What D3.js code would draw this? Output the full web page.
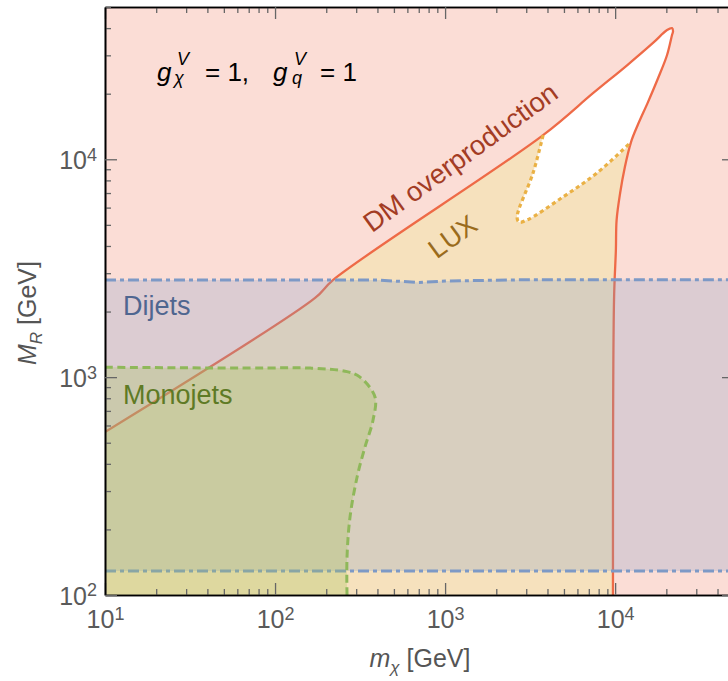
<!DOCTYPE html>
<html><head><meta charset="utf-8">
<script src="https://cdn.jsdelivr.net/npm/d3@7"></script>
<style>
body{margin:0;background:#fff;}
text{font-family:"Liberation Sans",Arial,Helvetica,sans-serif;}
</style></head>
<body>
<svg id="chart" width="728" height="681"></svg>
<script>
// ---- data (m_chi [GeV], M_R [GeV]) ----
const xMajorTicks = [10, 100, 1000, 10000];
const yMajorTicks = [100, 1000, 10000];

// DM overproduction boundary (red solid), split at the LUX junctions
const overprodLower = [[10,560],[172,2310],[219,2790],[3770,12900]];
const overprodTip = [[3770,12900],[7410,20100],[11750,27000],[16700,34200],[20200,39200],[21600,40000],[21900,38700],[21600,37200],[20200,30100],[17900,23600],[15600,18300],[13600,14400],[12400,12000]];
const overprodRight = [[12400,12000],[11400,9200],[10700,7000],[10200,5260],[10100,3830],[9850,2260],[9710,100]];

// LUX exclusion boundary (orange dotted)
const luxBoundary = [[3770,12900],[3290,8650],[2650,5430],[2720,5150],[3030,5260],[4930,6710],[7820,8650],[12400,12000]];

// Dijets excluded band (blue dash-dot)
const dijetsUpper = [[10,2790],[400,2790],[700,2720],[1000,2760],[3000,2800],[50000,2800]];
const dijetsLower = 129;

// Monojets exclusion (green dashed)
const monojetsBoundary = [[10,1110],[71,1100],[161,1100],[265,1060],[316,1000],[387,811],[377,636],[338,478],[304,349],[276,228],[265,149],[265,100]];

// ---- layout ----
const svg = d3.select("#chart");
const L = 105, R = 734, T = 7, B = 595;
const x = d3.scaleLog().domain([10, 50000]).range([L, R]);
const y = d3.scaleLog().domain([100, 50000]).range([B, T]);

svg.append("defs").append("clipPath").attr("id","clip")
  .append("rect").attr("x",L).attr("y",T).attr("width",R-L).attr("height",B-T);
const plot = svg.append("g").attr("clip-path","url(#clip)");

const line = d3.line().x(d=>x(d[0])).y(d=>y(d[1])).curve(d3.curveCatmullRom.alpha(0.5));
const lineLin = d3.line().x(d=>x(d[0])).y(d=>y(d[1]));

const overprodFull = overprodLower.concat(overprodTip.slice(1), overprodRight.slice(1));

// background (overproduction region)
plot.append("rect").attr("x",L).attr("y",T).attr("width",R-L).attr("height",B-T).attr("fill","#fbddd6");

// allowed region -> LUX-excluded colour
plot.append("path")
  .attr("d", line(overprodFull) + "L" + x(9710) + "," + (B+20) + "L" + (L-20) + "," + (B+20) + "L" + (L-20) + "," + y(560) + "Z")
  .attr("fill","#f6e1bd");

// white allowed region
plot.append("path")
  .attr("d", line(overprodTip.concat(luxBoundary.slice().reverse().slice(1))) + "Z")
  .attr("fill","#ffffff");

// red overproduction line
plot.append("path").attr("d", line(overprodFull))
  .attr("fill","none").attr("stroke","#ee6a47").attr("stroke-width",2.3).attr("stroke-linejoin","round");

// LUX dotted line
plot.append("path").attr("d", line(luxBoundary))
  .attr("fill","none").attr("stroke","#eab145").attr("stroke-width",3.2)
  .attr("stroke-dasharray","4,3.2");

// Dijets band
const dijArea = d3.area().x(d=>x(d[0])).y0(y(dijetsLower)).y1(d=>y(d[1]));
plot.append("path").attr("d", dijArea(dijetsUpper)).attr("fill","#7f9bc8").attr("fill-opacity",0.25);
plot.append("path").attr("d", lineLin(dijetsUpper)).attr("fill","none")
  .attr("stroke","#7d99c6").attr("stroke-width",3).attr("stroke-dasharray","11,4,4,4");
plot.append("path").attr("d", lineLin([[10,dijetsLower],[50000,dijetsLower]])).attr("fill","none")
  .attr("stroke","#7d99c6").attr("stroke-width",3).attr("stroke-dasharray","11,4,4,4");

// Monojets region
plot.append("path")
  .attr("d", line(monojetsBoundary) + "L" + x(265) + "," + (B+20) + "L" + (L-20) + "," + (B+20) + "L" + (L-20) + "," + y(1110) + "Z")
  .attr("fill","#a6c25a").attr("fill-opacity",0.3);
plot.append("path").attr("d", line(monojetsBoundary)).attr("fill","none")
  .attr("stroke","#8fb85a").attr("stroke-width",3).attr("stroke-dasharray","8,4.5");

// ---- axes ----
const minorX = [], minorY = [];
for (let e = 1; e <= 4; e++) for (let k = 2; k <= 9; k++) { const v = k*Math.pow(10,e); if (v <= 50000) minorX.push(v); }
for (let e = 2; e <= 4; e++) for (let k = 2; k <= 9; k++) { const v = k*Math.pow(10,e); if (v <= 50000) minorY.push(v); }

function styleAxis(g){
  g.selectAll(".tick line").attr("stroke","#666").attr("stroke-width",1.3);
  g.select(".domain").attr("stroke","#000").attr("stroke-width",1.6);
}
function supLabels(g){
  g.selectAll(".tick text").each(function(d){
    const t = d3.select(this); t.text(null);
    t.append("tspan").text("10");
    t.append("tspan").attr("dy","-0.45em").attr("font-size","0.72em").text(Math.round(Math.log10(d)));
  });
}

// bottom
const gB = svg.append("g").attr("transform",`translate(0,${B})`);
gB.append("g").call(d3.axisBottom(x).tickValues(minorX).tickSize(-6).tickSizeOuter(0).tickFormat(()=>"")).call(styleAxis);
const gBM = gB.append("g").call(d3.axisBottom(x).tickValues(xMajorTicks).tickSize(-12).tickSizeOuter(0).tickFormat(()=>"")).call(styleAxis);
gBM.selectAll(".tick text").attr("y",33).attr("dy",null).attr("fill","#5a5a5a").attr("font-size",25).attr("font-family","Liberation Sans, Arial, sans-serif");
supLabels(gBM);
// top
const gT = svg.append("g").attr("transform",`translate(0,${T})`);
gT.append("g").call(d3.axisTop(x).tickValues(minorX).tickSize(-6).tickSizeOuter(0).tickFormat(()=>"")).call(styleAxis);
gT.append("g").call(d3.axisTop(x).tickValues(xMajorTicks).tickSize(-12).tickSizeOuter(0).tickFormat(()=>"")).call(styleAxis);
// left
const gL = svg.append("g").attr("transform",`translate(${L},0)`);
gL.append("g").call(d3.axisLeft(y).tickValues(minorY).tickSize(-6).tickSizeOuter(0).tickFormat(()=>"")).call(styleAxis);
const gLM = gL.append("g").call(d3.axisLeft(y).tickValues(yMajorTicks).tickSize(-12).tickSizeOuter(0).tickFormat(()=>"")).call(styleAxis);
gLM.selectAll(".tick text").attr("x",-8).attr("dy","0.36em").attr("fill","#5a5a5a").attr("font-size",25).attr("font-family","Liberation Sans, Arial, sans-serif");
supLabels(gLM);
// right
const gR = svg.append("g").attr("transform",`translate(${R},0)`);
gR.append("g").call(d3.axisRight(y).tickValues(minorY).tickSize(-6).tickSizeOuter(0).tickFormat(()=>"")).call(styleAxis);
gR.append("g").call(d3.axisRight(y).tickValues(yMajorTicks).tickSize(-12).tickSizeOuter(0).tickFormat(()=>"")).call(styleAxis);

// axis titles
const xt = svg.append("text").attr("x",420).attr("y",667).attr("text-anchor","middle").attr("fill","#555").attr("font-size",25);
xt.append("tspan").attr("font-style","italic").text("m");
xt.append("tspan").attr("font-style","italic").attr("font-size",17).attr("dy",6).text("χ");
xt.append("tspan").attr("dy",-6).text(" [GeV]");

const yt = svg.append("text").attr("transform","translate(36,313) rotate(-90)").attr("text-anchor","middle").attr("fill","#555").attr("font-size",25);
yt.append("tspan").attr("font-style","italic").text("M");
yt.append("tspan").attr("font-style","italic").attr("font-size",17).attr("dy",6).text("R");
yt.append("tspan").attr("dy",-6).text(" [GeV]");

// coupling label
const cl = svg.append("g").attr("fill","#000");
cl.append("text").attr("x",157).attr("y",81).attr("font-size",26).attr("font-style","italic").text("g");
cl.append("text").attr("x",177).attr("y",65).attr("font-size",18).attr("font-style","italic").text("V");
cl.append("text").attr("x",174).attr("y",84).attr("font-size",18).attr("font-style","italic").text("χ");
cl.append("text").attr("x",205).attr("y",81).attr("font-size",26).text("= 1,");
cl.append("text").attr("x",273).attr("y",81).attr("font-size",26).attr("font-style","italic").text("g");
cl.append("text").attr("x",294).attr("y",65).attr("font-size",18).attr("font-style","italic").text("V");
cl.append("text").attr("x",292).attr("y",84).attr("font-size",18).attr("font-style","italic").text("q");
cl.append("text").attr("x",320).attr("y",81).attr("font-size",26).text("= 1");

// region labels
svg.append("text").attr("x",123).attr("y",315).attr("font-size",27).attr("fill","#4f6690").text("Dijets");
svg.append("text").attr("x",123).attr("y",404).attr("font-size",27).attr("fill","#5e7a25").text("Monojets");
svg.append("text").attr("transform","translate(466,165) rotate(-36)").attr("text-anchor","middle").attr("font-size",27.5).attr("fill","#a33c24").text("DM overproduction");
svg.append("text").attr("transform","translate(458,244) rotate(-36)").attr("text-anchor","middle").attr("font-size",27).attr("fill","#9a6b1c").text("LUX");
</script>
</body></html>
